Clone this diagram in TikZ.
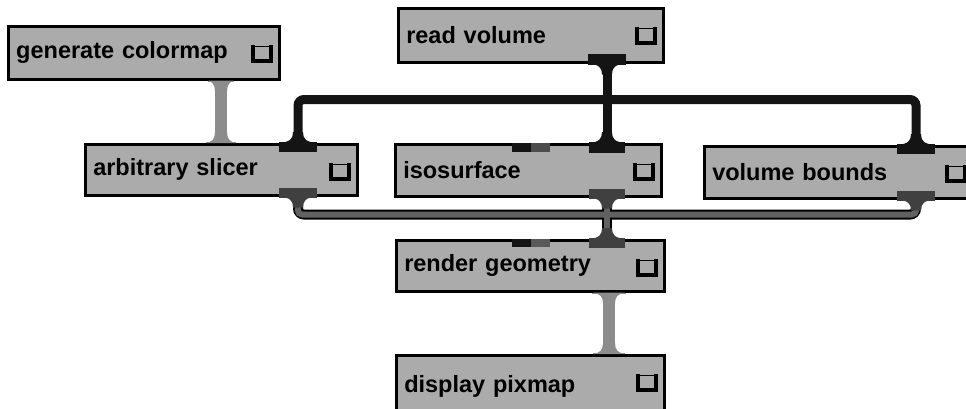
\documentclass[tikz,border=0pt]{standalone}
\usepackage{fontspec}
\setmainfont{Liberation Sans}
\usetikzlibrary{calc}
\tikzset{
  modbox/.style={draw=black, line width=2.5pt, fill=black!33, anchor=north west,
    inner xsep=8pt, inner ysep=0pt, align=left,
    font=\bfseries\fontsize{23.5}{23.5}\selectfont},
  busone/.style={line width=9pt, draw=black!92, rounded corners=6pt},
  bustwoouter/.style={line width=10pt, draw=black, rounded corners=6pt},
  bustwoinner/.style={line width=6pt, draw=black!62, rounded corners=4pt},
  lightconn/.style={line width=12pt, draw=black!45},
  iconthin/.style={line width=1pt, draw=black},
  iconthick/.style={line width=4pt, draw=black, line join=miter},
}
% #1 coordinate, #2 colour, #3 half width, #4 stem half width, #5 depth inside box
\newcommand\myportin[5]{%
  \fill[#2] ($(#1)+(-#3,-1)$) rectangle ($(#1)+(#3,#5)$);
  \fill[#2] ($(#1)+(-#3,0)$) .. controls ($(#1)+(-#4-3,-1)$) and ($(#1)+(-#4,-4)$) ..
    ($(#1)+(-#4,-11)$) -- ($(#1)+(#4,-11)$) .. controls ($(#1)+(#4,-4)$) and ($(#1)+(#4+3,-1)$) ..
    ($(#1)+(#3,0)$) -- cycle;}
\newcommand\myportout[5]{%
  \fill[#2] ($(#1)+(-#3,1)$) rectangle ($(#1)+(#3,-#5)$);
  \fill[#2] ($(#1)+(-#3,0)$) .. controls ($(#1)+(-#4-3,1)$) and ($(#1)+(-#4,4)$) ..
    ($(#1)+(-#4,11)$) -- ($(#1)+(#4,11)$) .. controls ($(#1)+(#4,4)$) and ($(#1)+(#4+3,1)$) ..
    ($(#1)+(#3,0)$) -- cycle;}
\newcommand\myicon[1]{%
  \draw[iconthin] ($(#1.north east)+(-29,21)$) rectangle ($(#1.north east)+(-9,37)$);
  \draw[iconthick] ($(#1.north east)+(-28,20)$) -- ($(#1.north east)+(-28,36)$)
    -- ($(#1.north east)+(-10,36)$) -- ($(#1.north east)+(-10,20)$);}
\begin{document}
\begin{tikzpicture}[x=1pt,y=-1pt]
\useasboundingbox (0,0) rectangle (966,408);
\clip (0,0) rectangle (966,408);

% modules
\node[modbox, text width=255pt, minimum height=53pt] (gc)  at (7,25)   {generate colormap};
\node[modbox, text width=249pt, minimum height=54pt] (rv)  at (397,7)  {read volume};
\node[modbox, text width=256pt, minimum height=51pt] (as)  at (84,143) {arbitrary slicer};
\node[modbox, text width=250pt, minimum height=52pt] (iso) at (394,143) {isosurface};
\node[modbox, text width=253pt, minimum height=52pt] (vb)  at (703,145) {volume bounds};
\node[modbox, text width=252pt, minimum height=51pt] (rg)  at (395,239) {render geometry};
\node[modbox, text width=252pt, minimum height=62pt] (dp)  at (395,354) {display pixmap};

\foreach \b in {gc,rv,as,iso,vb,rg,dp} {\myicon{\b}}

% port coordinates
\coordinate (gco)  at ([xshift=214pt]gc.south west);
\coordinate (asc)  at ([xshift=137pt]as.north west);
\coordinate (asi)  at ([xshift=214pt]as.north west);
\coordinate (aso)  at ([xshift=214pt]as.south west);
\coordinate (rvo)  at ([xshift=210pt]rv.south west);
\coordinate (isoi) at ([xshift=213pt]iso.north west);
\coordinate (isoo) at ([xshift=213pt]iso.south west);
\coordinate (vbi)  at ([xshift=213pt]vb.north west);
\coordinate (vbo)  at ([xshift=213pt]vb.south west);
\coordinate (rgi)  at ([xshift=212pt]rg.north west);
\coordinate (rgo)  at ([xshift=214pt]rg.south west);
\coordinate (dpi)  at ([xshift=214pt]dp.north west);

% connectors
\draw[lightconn] (gco) -- (asc);
\draw[lightconn] (rgo) -- (dpi);
\draw[busone] (asi) |- ($(rvo)+(0,36)$) -| (vbi);
\draw[busone] (rvo) -- (isoi);
\draw[bustwoouter] (aso) |- ($(isoo)+(0,17)$) -| (vbo);
\draw[bustwoouter] (isoo) -- (rgi);
\draw[bustwoinner] (aso) |- ($(isoo)+(0,17)$) -| (vbo);
\draw[bustwoinner] (isoo) -- (rgi);

% ports
\myportout{gco}{black!45}{13}{6}{0}
\myportin{asc}{black!45}{15}{6}{0}
\myportout{rgo}{black!45}{17}{6}{0}
\myportin{dpi}{black!45}{16}{6}{0}
\myportout{rvo}{black!92}{19}{5}{10}
\myportin{asi}{black!92}{19}{5}{9}
\myportin{isoi}{black!92}{18}{5}{10}
\myportin{vbi}{black!92}{19}{5}{9}
\myportout{aso}{black!75}{19}{5}{9}
\myportout{isoo}{black!75}{18}{5}{9}
\myportout{vbo}{black!75}{19}{5}{9}
\myportin{rgi}{black!75}{18}{5}{9}

% small markers
\fill[black!92] ([xshift=118pt]iso.north west) rectangle ([xshift=137pt,yshift=-9pt]iso.north west);
\fill[black!70] ([xshift=137pt]iso.north west) rectangle ([xshift=156pt,yshift=-9pt]iso.north west);
\fill[black!92] ([xshift=117pt]rg.north west) rectangle ([xshift=136pt,yshift=-8pt]rg.north west);
\fill[black!65] ([xshift=136pt]rg.north west) rectangle ([xshift=155pt,yshift=-8pt]rg.north west);
\end{tikzpicture}
\end{document}
